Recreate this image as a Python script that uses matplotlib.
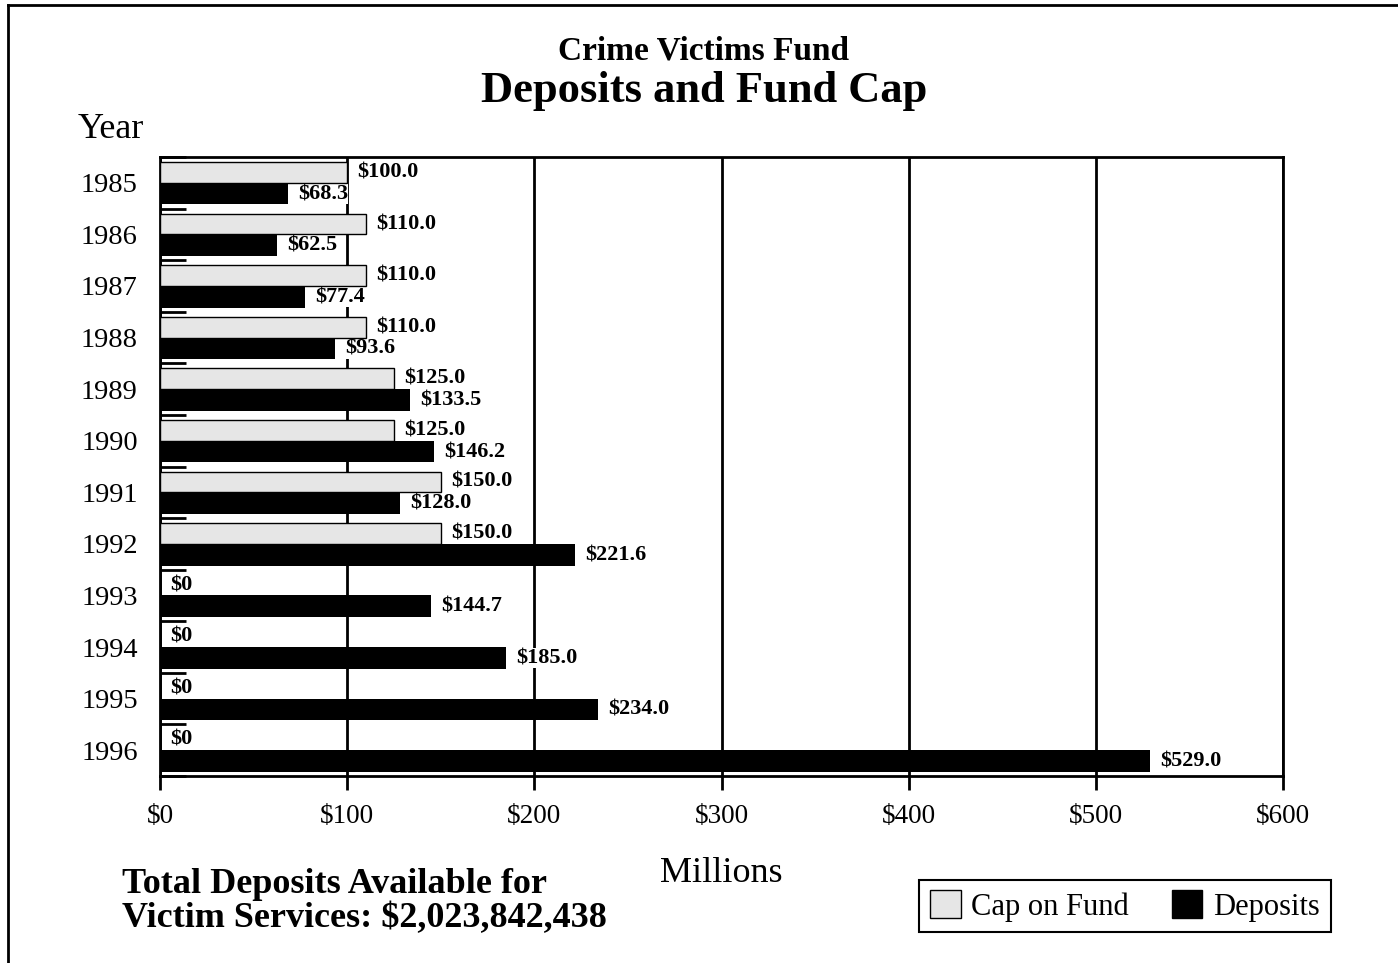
import numpy as np
import matplotlib
matplotlib.use("Agg")
import matplotlib.pyplot as plt
from matplotlib.lines import Line2D
from matplotlib.patches import Patch

plt.rcParams['font.family'] = ['Liberation Serif', 'DejaVu Serif']

years = ['1985', '1986', '1987', '1988', '1989', '1990',
         '1991', '1992', '1993', '1994', '1995', '1996']
cap = [100.0, 110.0, 110.0, 110.0, 125.0, 125.0, 150.0, 150.0, 0, 0, 0, 0]
deposits = [68.3, 62.5, 77.4, 93.6, 133.5, 146.2, 128.0, 221.6, 144.7, 185.0, 234.0, 529.0]
xticks = [0, 100, 200, 300, 400, 500, 600]

W, H = 1398, 963
fig = plt.figure(figsize=(W / 100, H / 100), dpi=100)

# page frame (left + top only, rest cut off)
fig.add_artist(Line2D([7.5 / W, 7.5 / W], [0, 1 - 5.5 / H], transform=fig.transFigure, color='k', lw=2))
fig.add_artist(Line2D([7.5 / W, 1], [1 - 5.5 / H, 1 - 5.5 / H], transform=fig.transFigure, color='k', lw=2))

ax = fig.add_axes([160 / W, 1 - 776 / H, (1283 - 160) / W, (776 - 157) / H])

y = np.arange(len(years))
ax.barh(y - 0.2, cap, height=0.4, color='#e6e6e6', edgecolor='k', linewidth=1, zorder=3)
ax.barh(y + 0.21, deposits, height=0.42, color='k', edgecolor='k', linewidth=0, zorder=3)

lbl = dict(ha='left', va='center', fontsize=16, fontweight='bold', zorder=2.5,
           bbox=dict(facecolor='white', edgecolor='none', pad=0))
for i in range(len(years)):
    c = cap[i]
    lab = '$%.1f' % c if c > 0 else '$0'
    ax.text(c + 5.5, y[i] - 0.2, lab, **lbl)
    ax.text(deposits[i] + 5.5, y[i] + 0.22, '$%.1f' % deposits[i], **lbl)

ax.set_xlim(0, 600)
ax.set_ylim(len(years) - 0.5, -0.5)
ax.set_xticks(xticks)
ax.set_xticklabels(['$%d' % v for v in xticks], fontsize=19.5)
ax.set_yticks(y)
ax.set_yticklabels(years, fontsize=20.5)
ax.set_yticks(np.arange(len(years) + 1) - 0.5, minor=True)

ax.tick_params(axis='x', which='major', direction='out', length=10, width=2, pad=10)
ax.tick_params(axis='y', which='major', length=0, pad=16)
ax.tick_params(axis='y', which='minor', direction='in', length=19, width=2)

ax.grid(axis='x', color='k', lw=2, zorder=1)
for s in ax.spines.values():
    s.set_linewidth(2)

ax.set_xlabel('Millions', fontsize=26, labelpad=20)
fig.text(111 / W, 1 - 129 / H, 'Year', fontsize=26, ha='center', va='center')

fig.text(704 / W, 1 - 51 / H, 'Crime Victims Fund', fontsize=24, fontweight='bold',
         ha='center', va='center')
fig.text(704 / W, 1 - 91 / H, 'Deposits and Fund Cap', fontsize=32, fontweight='bold',
         ha='center', va='center')

fig.text(122 / W, 1 - 884 / H, 'Total Deposits Available for', fontsize=26,
         fontweight='bold', ha='left', va='center')
fig.text(122 / W, 1 - 919 / H, 'Victim Services: $2,023,842,438', fontsize=26,
         fontweight='bold', ha='left', va='center')

handles = [Patch(facecolor='#e6e6e6', edgecolor='k', label='Cap on Fund'),
           Patch(facecolor='k', edgecolor='k', label='Deposits')]
leg = fig.legend(handles=handles, ncol=2, loc='center', fontsize=22,
                 bbox_to_anchor=(1125 / W, 1 - 906 / H), fancybox=False,
                 edgecolor='k', framealpha=1, handlelength=1.0, handleheight=1.0,
                 handletextpad=0.35, columnspacing=1.4, borderpad=0.35, borderaxespad=0)
leg.get_frame().set_linewidth(1.5)

fig.savefig('out.png', dpi=100)
